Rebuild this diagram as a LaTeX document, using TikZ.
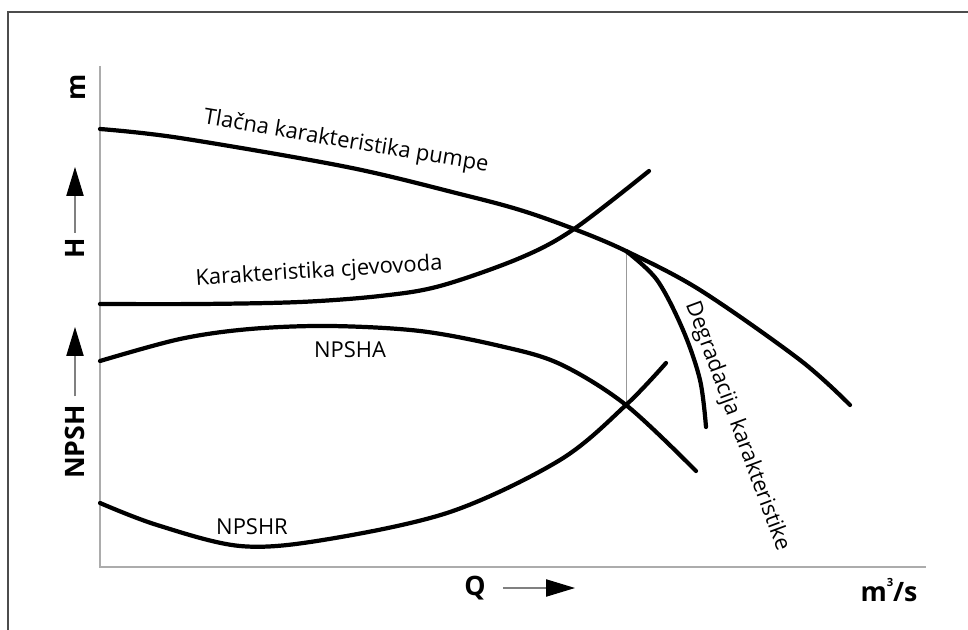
\documentclass[tikz,border=0pt]{standalone}
\usepackage{fontspec}
\setmainfont{Open Sans}
\usetikzlibrary{arrows.meta}
\begin{document}
\begin{tikzpicture}[x=0.025cm, y=-0.025cm,
  curve/.style={line width=3pt, line cap=round, smooth, tension=0.55},
  lbl/.style={font=\fontsize{15.6}{18}\selectfont, inner sep=0pt},
  axlbl/.style={font=\fontsize{19}{22}\selectfont\bfseries, inner sep=0pt},
  axis/.style={draw=gray!65, line width=1pt},
  dirarrow/.style={draw=gray, line width=0.8pt, -{Triangle[length=0.72cm, width=0.43cm, color=black]}}]
\useasboundingbox (0,0) rectangle (968,630);
\draw[gray!60!black, line width=1pt] (8,630) -- (8,12) -- (968,12);
\coordinate (origin) at (100,567);
\coordinate (ytop) at (100,66);
\coordinate (xend) at (926,567);
\draw[axis] (ytop) -- (origin) -- (xend);
\coordinate (duty) at (626,251);
\coordinate (npcross) at (626,405);
\draw[gray!80, line width=0.6pt] (duty) -- (npcross);
\draw[curve] plot coordinates {(100,129) (180,138) (347,167) (460,194) (520,210) (574,229) (626,251) (700,290) (800,360) (850,405)};
\draw[curve] plot coordinates {(100,304) (200,304) (300,302) (380,296) (440,286) (520,258) (574,229) (649,171)};
\draw[curve] plot coordinates {(100,361) (180,339) (250,329) (330,326) (420,331) (500,346) (560,364) (626,405) (696,471)};
\draw[curve] plot coordinates {(100,503) (157,525) (240,546) (323,540) (450,512) (560,460) (626,405) (666,363)};
\draw[curve] plot coordinates {(626,251) (657,280) (683,330) (700,380) (706,427)};
\node[lbl, rotate=-9.5] (pumplbl) at (346,142) {Tlačna karakteristika pumpe};
\node[lbl, rotate=3.5] (pipelbl) at (319,272) {Karakteristika cjevovoda};
\node[lbl] (npsha) at (350,350) {NPSHA};
\node[lbl] (npshr) at (252,527) {NPSHR};
\node[lbl, rotate=-69.6] (deglbl) at (737,426) {Degradacija karakteristike};
\node[axlbl, rotate=90] (unitm) at (78,87) {m};
\node[axlbl, rotate=90] (lblH) at (75,248) {H};
\node[axlbl, rotate=90] (lblN) at (75,442) {NPSH};
\node[axlbl] (lblQ) at (475,588) {Q};
\node[axlbl] (unitq) at (889,590) {m\raisebox{0.55em}{\fontsize{8}{8}\selectfont 3}/s};
\coordinate (tipH) at (75,167);
\coordinate (tipN) at (75,327);
\coordinate (tipQ) at (575,588);
\draw[dirarrow, shorten <=3.5pt] (lblH) -- (tipH);
\draw[dirarrow, shorten <=6pt] (lblN) -- (tipN);
\draw[dirarrow, shorten <=12pt] (lblQ) -- (tipQ);
\end{tikzpicture}
\end{document}
